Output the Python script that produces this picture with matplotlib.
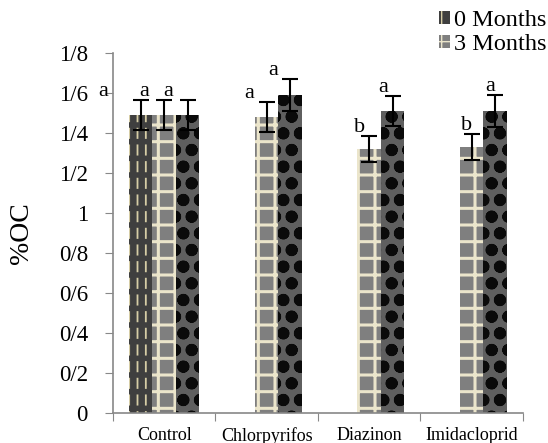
import matplotlib.pyplot as plt
import numpy as np
from matplotlib.patches import Patch

plt.rcParams['font.family'] = ['Liberation Serif', 'DejaVu Serif']

categories = ["Control", "Chlorpyrifos", "Diazinon", "Imidacloprid"]
# series: bar 1 (0 months, only Control), bar 2 (3 months), bar 3
months0 = [1.49, None, None, None]
months0_err = [0.075, None, None, None]
months3 = [1.49, 1.48, 1.32, 1.33]
months3_err = [0.075, 0.075, 0.065, 0.065]
third = [1.49, 1.59, 1.51, 1.51]
third_err = [0.075, 0.08, 0.075, 0.08]
letters0 = ["a", None, None, None]
letters3 = ["a", "a", "b", "b"]
letters_third = ["a", "a", "a", "a"]

ytick_vals = [0, 0.2, 0.4, 0.6, 0.8, 1.0, 1.2, 1.4, 1.6, 1.8]
ytick_labels = ["0", "0/2", "0/4", "0/6", "0/8", "1", "1/2", "1/4", "1/6", "1/8"]

# horizontal shift of the significance letters (layout only)
label_shift = [-0.19, -0.17, -0.09, -0.05]

fig = plt.figure(figsize=(5.48, 4.43), dpi=100)
ax = fig.add_axes([0.206, 0.0677, 0.748, 0.8123])

x = np.arange(len(categories))
w = 0.23

series = [
    (months0, months0_err, letters0, -w, "#3f3f3f", "#d6cda6", "||", 1.3),
    (months3, months3_err, letters3, 0, "#7f7f7f", "#ebe5cb", "+", 2.2),
    (third, third_err, letters_third, w, "#5f5f5f", "#0a0a0a", "o", 4.0),
]

for vals, errs, lets, off, fc, hc, hatch, hlw in series:
    for i, v in enumerate(vals):
        if v is None:
            continue
        with plt.rc_context({'hatch.linewidth': hlw}):
            ax.bar(x[i] + off, v, w, color=fc, edgecolor=hc, hatch=hatch, linewidth=0)
        if off < 0:
            # break the tan stripes into dashes
            with plt.rc_context({'hatch.linewidth': 4.0}):
                ax.bar(x[i] + off, v, w, facecolor="none", edgecolor=fc, hatch="-", linewidth=0)
        ax.errorbar(x[i] + off, v, yerr=errs[i], color="black", capsize=6,
                    elinewidth=1.5, capthick=1.5, fmt="none")
        if lets[i]:
            shift = -0.36 if off < 0 else label_shift[i]
            ax.text(x[i] + off + shift, v + errs[i] + 0.02, lets[i],
                    ha="center", va="baseline", fontsize=16)

ax.set_xlim(-0.5, 3.5)
ax.set_ylim(0, 1.8)
ax.set_yticks(ytick_vals)
ax.set_yticklabels(ytick_labels, fontsize=16.5)
ax.set_xticks(np.arange(-0.5, 4, 1))
ax.set_xticklabels([])
ax.set_xticks(x, minor=True)
ax.set_xticklabels(categories, minor=True, fontsize=13)
ax.tick_params(axis="x", which="minor", length=0, pad=10)
ax.tick_params(axis="x", which="major", length=6, color="#888888", direction="out")
ax.tick_params(axis="y", length=6, color="#888888", direction="out", pad=12)

for s in ["top", "right"]:
    ax.spines[s].set_visible(False)
for s in ["left", "bottom"]:
    ax.spines[s].set_color("#888888")
    ax.spines[s].set_linewidth(1.2)

ax.set_ylabel("%OC", fontsize=20)
ax.yaxis.set_label_coords((34 - 113) / 410, 0.5)

handles = [Patch(facecolor="#3f3f3f", edgecolor="#d6cda6", hatch="|", linewidth=0, label="0 Months"),
           Patch(facecolor="#7f7f7f", edgecolor="#ebe5cb", hatch="+", linewidth=0, label="3 Months")]
fig.legend(handles=handles, loc="upper right", bbox_to_anchor=(547 / 548, 1 - 10 / 443), frameon=False,
           fontsize=17.5, handlelength=0.42, handleheight=0.42, handletextpad=0.2,
           labelspacing=0.12, borderpad=0, borderaxespad=0)

fig.savefig("out.png", dpi=100)
